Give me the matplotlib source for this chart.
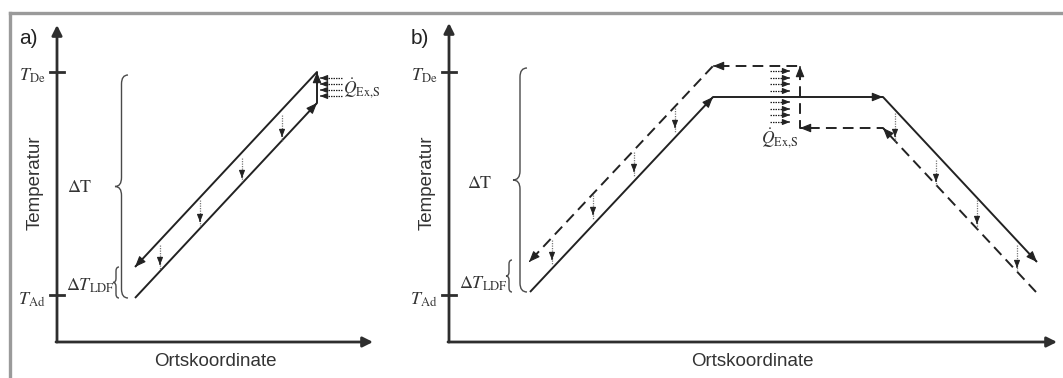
import matplotlib
matplotlib.use("Agg")
import matplotlib.pyplot as plt
from matplotlib.path import Path
from matplotlib.patches import PathPatch
from matplotlib.lines import Line2D

plt.rcParams['font.family'] = ['Liberation Sans', 'DejaVu Sans']
plt.rcParams['mathtext.fontset'] = 'stix'

# schematic coordinates (1 unit = 1 px, origin = corner of the axes)
T_ad = 47
T_de = 270

# a) single pass
a_solid_x = [78, 260, 260, 78]
a_solid_y = [44, 239, 270, 75]
a_drop_x = [103, 143, 185, 225]
a_drop_top = [97, 142, 184, 227]
a_drop_bot = [77, 120, 164, 205]
a_q_y = [264, 258, 252, 246]
a_q_x = [285, 263]

# b) two passes with plateau
b_solid_x = [81, 264, 434, 588]
b_solid_y = [50, 245, 245, 80]
b_dash_x = [587, 434, 351, 351, 264, 80]
b_dash_y = [50, 214, 214, 276, 276, 80]
b_drop_x = [103, 144, 185, 226, 446, 487, 528, 568]
b_drop_top = [102, 147, 190, 234, 229, 182, 142, 97]
b_drop_bot = [82, 127, 170, 214, 205, 160, 118, 74]
b_q_y = [271, 264, 258, 251, 240, 233, 227, 220]
b_q_x = [321, 341]

ink = '#222222'
dot_c = '#777777'
q_label = r'$\dot{Q}_{\mathrm{Ex{,}S}}$'


def head(ax, x0, y0, x1, y1, ms=12, c=ink):
    # arrowhead at (x1, y1) pointing away from (x0, y0)
    dx, dy = x1 - x0, y1 - y0
    n = (dx ** 2 + dy ** 2) ** 0.5
    ax.annotate('', xy=(x1, y1), xytext=(x1 - dx / n, y1 - dy / n),
                arrowprops=dict(arrowstyle='-|>,head_length=0.55,head_width=0.22',
                                color=c, lw=0.8, shrinkA=0, shrinkB=0,
                                mutation_scale=ms), annotation_clip=False)


def polyline(ax, xs, ys, dashed=False):
    kw = dict(color=ink, lw=1.4, solid_capstyle='butt')
    if dashed:
        kw['dashes'] = (5.5, 3.2)
    ax.plot(xs, ys, **kw)
    for i in range(1, len(xs)):
        head(ax, xs[i - 1], ys[i - 1], xs[i], ys[i])


def drops(ax, xs, tops, bots):
    for x, t, b in zip(xs, tops, bots):
        ax.plot([x, x], [t, b - 4], color=dot_c, lw=0.9, ls=(0, (1, 1)))
        head(ax, x, t, x, b, ms=8, c=ink)


def q_arrows(ax, xs, ys):
    for y in ys:
        ax.plot([xs[0], xs[1] - (4 if xs[1] > xs[0] else -4)], [y, y],
                color=ink, lw=0.9, ls=(0, (1.2, 0.8)))
        head(ax, xs[0], y, xs[1], y, ms=8)


def brace(ax, x, y0, y1, w, r):
    xm = x + w / 2
    ym = (y0 + y1) / 2
    verts = [(x + w, y1), (xm, y1), (xm, y1 - r),
             (xm, ym + r), (xm, ym), (x, ym),
             (xm, ym), (xm, ym - r),
             (xm, y0 + r), (xm, y0), (x + w, y0)]
    codes = [Path.MOVETO, Path.CURVE3, Path.CURVE3,
             Path.LINETO, Path.CURVE3, Path.CURVE3,
             Path.CURVE3, Path.CURVE3,
             Path.LINETO, Path.CURVE3, Path.CURVE3]
    ax.add_patch(PathPatch(Path(verts, codes), fill=False, ec='#4a4a4a', lw=1.0))


def frame(ax, xmax, ymax, label):
    ax.set_ylim(-36, 342)
    ax.axis('off')
    ax.annotate('', xy=(0, ymax), xytext=(0, 0),
                arrowprops=dict(arrowstyle='-|>,head_length=0.6,head_width=0.3',
                                color='#2e2e2e', lw=2.0, shrinkA=0, shrinkB=0,
                                mutation_scale=10))
    ax.annotate('', xy=(xmax, 0), xytext=(-1, 0),
                arrowprops=dict(arrowstyle='-|>,head_length=0.6,head_width=0.3',
                                color='#2e2e2e', lw=2.0, shrinkA=0, shrinkB=0,
                                mutation_scale=10))
    for t in (T_ad, T_de):
        ax.plot([-7, 7], [t, t], color='#2e2e2e', lw=2.0)
    ax.text(-25, T_de - 4, r'$T_{\mathrm{De}}$', fontsize=13, color='#333333',
            ha='center', va='center')
    ax.text(-25, T_ad - 5, r'$T_{\mathrm{Ad}}$', fontsize=13, color='#333333',
            ha='center', va='center')
    ax.text(-22, 159, 'Temperatur', rotation=90, fontsize=13.5, color='#333333',
            ha='center', va='center')
    ax.text(-29, 304, label, fontsize=15, color='#222222', ha='center', va='center')


fig = plt.figure(figsize=(10.63, 3.78), dpi=100)

# --- a) ---
ax_a = fig.add_axes([0, 0, 400 / 1063, 1])
ax_a.set_xlim(-57, 343)
frame(ax_a, 316, 317, 'a)')
ax_a.text(158, -20, 'Ortskoordinate', fontsize=13.5, color='#333333',
          ha='center', va='center')
polyline(ax_a, a_solid_x, a_solid_y)
drops(ax_a, a_drop_x, a_drop_top, a_drop_bot)
q_arrows(ax_a, a_q_x, a_q_y)
ax_a.text(286, 254, q_label, fontsize=12.5, color='#333333',
          ha='left', va='center')
brace(ax_a, 58, 44, 267, 13, 9)
brace(ax_a, 56, 44, 75, 6, 4)
ax_a.text(23, 154, r'$\Delta\mathrm{T}$', fontsize=13, color='#333333',
          ha='center', va='center')
ax_a.text(33, 56, r'$\Delta T_{\mathrm{LDF}}$', fontsize=13, color='#333333',
          ha='center', va='center')

# --- b) ---
ax_b = fig.add_axes([400 / 1063, 0, 663 / 1063, 1])
ax_b.set_xlim(-49, 614)
frame(ax_b, 608, 319, 'b)')
ax_b.text(303, -20, 'Ortskoordinate', fontsize=13.5, color='#333333',
          ha='center', va='center')
polyline(ax_b, b_solid_x, b_solid_y)
polyline(ax_b, b_dash_x, b_dash_y, dashed=True)
drops(ax_b, b_drop_x, b_drop_top, b_drop_bot)
q_arrows(ax_b, b_q_x, b_q_y)
ax_b.text(331, 204, q_label, fontsize=12.5, color='#333333',
          ha='center', va='center')
brace(ax_b, 64, 50, 274, 14, 9)
brace(ax_b, 57, 50, 82, 6, 4)
ax_b.text(31, 159, r'$\Delta\mathrm{T}$', fontsize=13, color='#333333',
          ha='center', va='center')
ax_b.text(34, 58, r'$\Delta T_{\mathrm{LDF}}$', fontsize=13, color='#333333',
          ha='center', va='center')

# gray frame of the figure
fig.add_artist(Line2D([10 / 1063, 1], [1 - 13 / 378, 1 - 13 / 378],
                      transform=fig.transFigure, color='#9a9a9a', lw=2.4))
fig.add_artist(Line2D([10 / 1063, 10 / 1063], [0, 1 - 13 / 378],
                      transform=fig.transFigure, color='#9a9a9a', lw=2.4))

fig.savefig('out.png', dpi=100)
